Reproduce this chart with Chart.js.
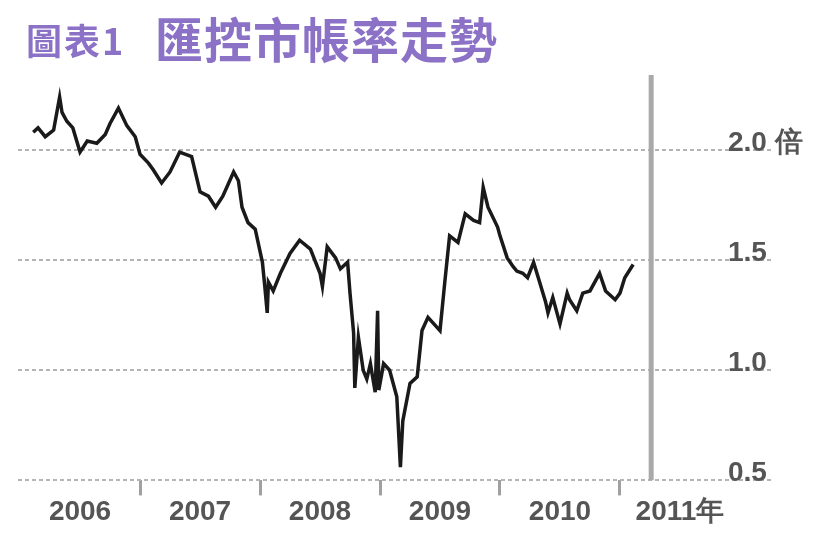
<!DOCTYPE html>
<html>
<head>
    <meta charset="utf-8">
    <title>匯控市帳率走勢</title>
    <script src="https://cdn.jsdelivr.net/npm/chart.js"></script>
    <style>
        body { margin: 0; background: #fff; }
        #wrap { position: relative; width: 831px; height: 540px; }
        #chart { position: absolute; left: 0; top: 0; }
        .ttl { position: absolute; color: #8b72c6; font-family: "Noto Sans CJK TC", sans-serif; font-weight: 700; line-height: 1; white-space: nowrap; }
        #t1 { left: 26px; top: 21px; font-size: 36px; letter-spacing: 2px; }
        #t2 { left: 155px; top: 13px; font-size: 48px; letter-spacing: 1px; }
    </style>
</head>
<body>
    <div id="wrap">
        <canvas id="chart" width="831" height="540"></canvas>
        <span class="ttl" id="t1">圖表1</span>
        <span class="ttl" id="t2">匯控市帳率走勢</span>
    </div>

    <script>
        // decimal year of each reading, and the price-to-book ratio
        const dates = [2006.11, 2006.15, 2006.21, 2006.28, 2006.33, 2006.35, 2006.39, 2006.44, 2006.50, 2006.56, 2006.64, 2006.71, 2006.75, 2006.82, 2006.89, 2006.96,
            2007.00, 2007.07, 2007.11, 2007.18, 2007.25, 2007.33, 2007.43, 2007.50, 2007.57, 2007.63, 2007.69, 2007.78, 2007.82, 2007.85, 2007.90, 2007.96,
            2008.02, 2008.04, 2008.06, 2008.07, 2008.11, 2008.17, 2008.25, 2008.33, 2008.42, 2008.50, 2008.52, 2008.56, 2008.63, 2008.67, 2008.73, 2008.75,
            2008.78, 2008.79, 2008.82, 2008.86, 2008.89, 2008.92, 2008.96, 2008.98, 2008.99,
            2009.03, 2009.08, 2009.14, 2009.17, 2009.19, 2009.25, 2009.31, 2009.35, 2009.40, 2009.50, 2009.54, 2009.58, 2009.65, 2009.71, 2009.78, 2009.83,
            2009.86, 2009.90, 2009.98,
            2010.00, 2010.06, 2010.11, 2010.14, 2010.19, 2010.23, 2010.28, 2010.33, 2010.38, 2010.40, 2010.44, 2010.50, 2010.56, 2010.58, 2010.64, 2010.69,
            2010.75, 2010.83, 2010.88, 2010.96,
            2011.00, 2011.04, 2011.11];
        const pb = [2.08, 2.10, 2.06, 2.09, 2.24, 2.17, 2.13, 2.10, 1.99, 2.04, 2.03, 2.07, 2.12, 2.19, 2.11, 2.06,
            1.98, 1.94, 1.91, 1.85, 1.90, 1.99, 1.97, 1.81, 1.79, 1.74, 1.79, 1.90, 1.86, 1.74, 1.67, 1.64,
            1.49, 1.38, 1.26, 1.40, 1.36, 1.44, 1.53, 1.59, 1.55, 1.44, 1.38, 1.56, 1.51, 1.46, 1.49, 1.35,
            1.17, 0.92, 1.15, 1.00, 0.96, 1.03, 0.90, 1.27, 0.91,
            1.03, 1.00, 0.88, 0.56, 0.77, 0.94, 0.97, 1.18, 1.24, 1.18, 1.40, 1.61, 1.58, 1.71, 1.68, 1.67,
            1.83, 1.74, 1.65,
            1.61, 1.51, 1.47, 1.45, 1.44, 1.42, 1.49, 1.40, 1.31, 1.26, 1.33, 1.21, 1.35, 1.32, 1.27, 1.35,
            1.36, 1.44, 1.36, 1.32,
            1.35, 1.42, 1.48];

        const years = [2006, 2007, 2008, 2009, 2010, 2011];
        const yearLabels = ['2006', '2007', '2008', '2009', '2010', '2011年'];
        const yTicks = [0.5, 1.0, 1.5, 2.0];
        const yLabels = ['0.5', '1.0', '1.5', '2.0 倍'];
        const markerYear = 2011.26;

        const yMin = 0.5, yMax = 2.34;
        const labelFont = '"Liberation Sans", Arial, sans-serif';

        // right-hand value labels, sitting just above each grid line
        const yLabelPlugin = {
            id: 'yLabels',
            afterDraw(chart) {
                const ctx = chart.ctx;
                const y = chart.scales.y;
                ctx.save();
                ctx.font = 'bold 28px ' + labelFont;
                ctx.fillStyle = '#555';
                ctx.textAlign = 'left';
                ctx.textBaseline = 'alphabetic';
                yTicks.forEach((v, i) => {
                    ctx.fillText(yLabels[i], chart.chartArea.right - 44, y.getPixelForValue(v) + 1);
                });
                ctx.restore();
            }
        };

        new Chart(document.getElementById('chart'), {
            type: 'line',
            data: {
                datasets: [{
                    data: dates.map((d, i) => ({ x: d, y: pb[i] })),
                    borderColor: '#1a1a1a',
                    borderWidth: 3.5,
                    pointRadius: 0,
                    tension: 0
                }, {
                    data: [{ x: markerYear, y: yMin }, { x: markerYear, y: yMax }],
                    borderColor: '#a9a9a9',
                    borderWidth: 5,
                    pointRadius: 0
                }]
            },
            options: {
                responsive: false,
                animation: false,
                layout: { autoPadding: false, padding: { left: 18, right: 59, top: 75, bottom: 11 } },
                plugins: { legend: { display: false }, tooltip: { enabled: false } },
                scales: {
                    x: {
                        type: 'linear',
                        min: 2005.983,
                        max: 2012.267,
                        afterBuildTicks: axis => { axis.ticks = years.map(v => ({ value: v })); },
                        afterFit: axis => { axis.paddingLeft = 0; axis.paddingRight = 0; },
                        border: { display: false },
                        grid: {
                            drawOnChartArea: false,
                            drawTicks: true,
                            tickLength: 15,
                            lineWidth: 3,
                            color: c => (c.tick && c.tick.value === years[0]) ? 'rgba(0,0,0,0)' : '#a0a0a0'
                        },
                        ticks: {
                            autoSkip: false,
                            maxRotation: 0,
                            labelOffset: 60,
                            padding: 0,
                            color: '#555',
                            font: { family: labelFont, size: 28, weight: 'bold' },
                            callback: v => yearLabels[years.indexOf(v)]
                        }
                    },
                    y: {
                        position: 'right',
                        min: yMin,
                        max: yMax,
                        afterBuildTicks: axis => { axis.ticks = yTicks.map(v => ({ value: v })); },
                        border: { display: false, dash: [4, 3] },
                        grid: { drawTicks: false, color: '#b4b4b4', lineWidth: 2 },
                        ticks: { display: false }
                    }
                }
            },
            plugins: [yLabelPlugin]
        });
    </script>
</body>
</html>
